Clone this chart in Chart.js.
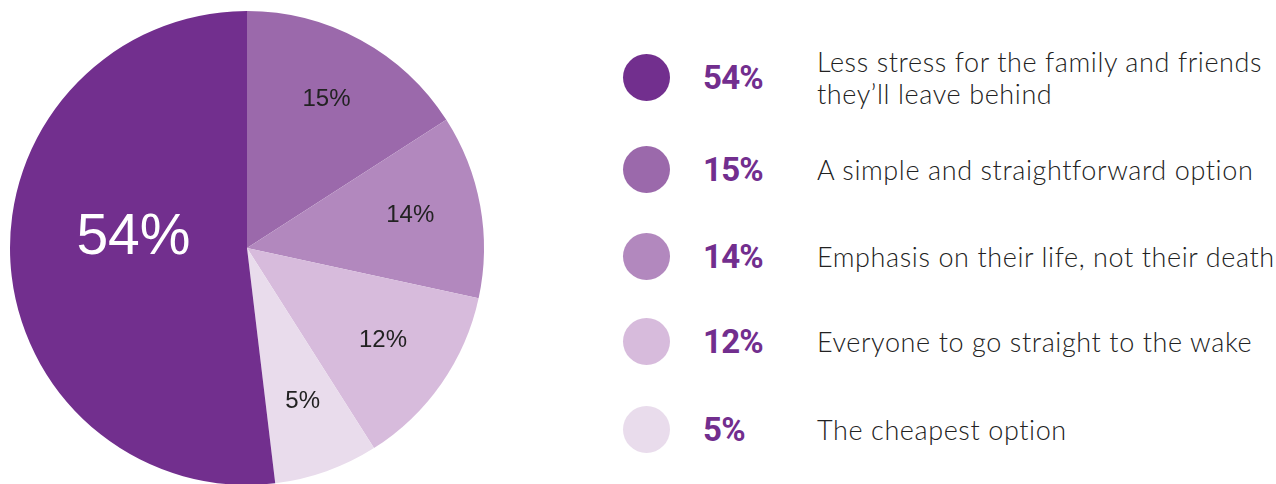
<!DOCTYPE html>
<html>
<head>
<meta charset="utf-8">
<script src="https://cdn.jsdelivr.net/npm/chart.js@4"></script>
<style>
  html, body { margin: 0; padding: 0; background: #fff; overflow: hidden; }
  body { width: 1276px; height: 484px; position: relative; }
  #pieBox { position: absolute; left: 0; top: 0; width: 494px; height: 496px; }
  .row { position: absolute; left: 623px; height: 48px; width: 650px; }
  .dot { position: absolute; left: 0; top: 0; width: 47px; height: 47px; border-radius: 50%; }
  .pct { position: absolute; left: 80px; top: 0; line-height: 48px; font-family: Roboto, sans-serif;
         font-weight: 700; font-size: 33px; color: #722e8e; letter-spacing: -0.8px; }
  .txt { position: absolute; left: 194px; top: 50%; transform: translateY(-50%); font-family: Lato, sans-serif;
         font-weight: 300; font-size: 27px; line-height: 32px; color: #222; white-space: nowrap; letter-spacing: 0.6px; }
</style>
</head>
<body>
<div id="pieBox"><canvas id="pie"></canvas></div>
<div id="legend"></div>
<script>
// shown percentages and answer text
var answers = ["Less stress for the family and friends\nthey\u2019ll leave behind",
  "A simple and straightforward option",
  "Emphasis on their life, not their death",
  "Everyone to go straight to the wake",
  "The cheapest option"];
var pctLabels = ["54%", "15%", "14%", "12%", "5%"];
// slice sizes as drawn (clockwise from 12 o'clock)
var sliceOrder = [1, 2, 3, 4, 0];
var sliceValues = [15.9, 12.5, 12.6, 7.1, 51.9];
var colors = ["#722f8e", "#9b69ab", "#b288be", "#d7bbdc", "#e9dcec"];

var rowCenters = [78, 170, 257, 342, 430];

var legend = document.getElementById("legend");
for (var i = 0; i < answers.length; i++) {
  var row = document.createElement("div");
  row.className = "row";
  row.style.top = (rowCenters[i] - 24) + "px";
  row.innerHTML = '<div class="dot" style="background:' + colors[i] + '"></div>' +
    '<div class="pct">' + pctLabels[i] + '</div>' +
    '<div class="txt">' + answers[i].replace("\n", "<br>") + '</div>';
  legend.appendChild(row);
}

var sliceLabels = [];
var sliceColors = [];
for (var i = 0; i < sliceOrder.length; i++) {
  sliceLabels.push(pctLabels[sliceOrder[i]]);
  sliceColors.push(colors[sliceOrder[i]]);
}

var labelPlugin = {
  id: "sliceText",
  afterDatasetsDraw: function(chart) {
    var ctx = chart.ctx;
    var meta = chart.getDatasetMeta(0);
    ctx.save();
    ctx.textAlign = "center";
    ctx.textBaseline = "middle";
    meta.data.forEach(function(arc, i) {
      var big = sliceOrder[i] == 0;
      var mid = (arc.startAngle + arc.endAngle) / 2;
      var r = arc.outerRadius * (big ? 0.48 : 0.7);
      var x = arc.x + Math.cos(mid) * r;
      var y = arc.y + Math.sin(mid) * r - (big ? 17 : 3);
      ctx.fillStyle = big ? "#ffffff" : "#222222";
      ctx.font = big ? "57px 'Liberation Sans', Arial, sans-serif" : "24px 'Liberation Sans', Arial, sans-serif";
      ctx.fillText(sliceLabels[i], x, y);
    });
    ctx.restore();
  }
};

new Chart(document.getElementById("pie"), {
  type: "pie",
  data: {
    labels: sliceLabels,
    datasets: [{
      data: sliceValues,
      backgroundColor: sliceColors,
      borderWidth: 0
    }]
  },
  options: {
    responsive: true,
    maintainAspectRatio: false,
    animation: false,
    layout: { padding: 10 },
    plugins: { legend: { display: false }, tooltip: { enabled: false } }
  },
  plugins: [labelPlugin]
});
</script>
</body>
</html>
